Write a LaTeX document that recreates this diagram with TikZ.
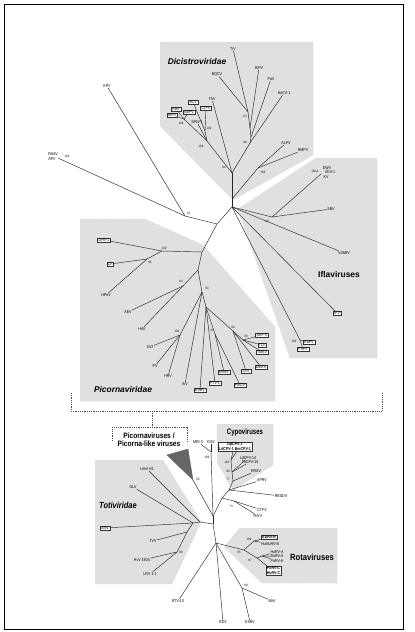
\documentclass[tikz,border=0pt]{standalone}
\usepackage{fontspec}
\setmainfont{Liberation Sans}
\newfontfamily\nf[FakeStretch=0.85]{Liberation Sans}
\newfontfamily\nnf[FakeStretch=0.75]{Liberation Sans}
\usepackage{tikz}
\usetikzlibrary{positioning}

\begin{document}
\begin{tikzpicture}[x=1pt,y=-1pt,
    br/.style={draw=black!85,line width=0.45pt},
    lab/.style={font=\nf\fontsize{4.2}{4.2}\selectfont,inner sep=0.5pt},
    bx/.style={lab,draw=black!80,fill=white,line width=0.3pt,inner xsep=1.1pt,inner ysep=0.6pt},
    bbx/.style={bx,font=\nf\bfseries\fontsize{4.2}{5}\selectfont,align=center},
    num/.style={font=\nf\fontsize{3.2}{3.2}\selectfont,inner sep=0pt},
    clade/.style={fill=black!12,draw=black!25,densely dotted,line width=0.3pt},
    brk/.style={draw=black!70,line width=0.4pt,dash pattern=on 1pt off 0.8pt},
    fam/.style={font=\bfseries\itshape\fontsize{8.4}{9}\selectfont}]
  \useasboundingbox (0,0) rectangle (415,632);
  \draw[line width=0.9pt] (4,4) rectangle (403,629);
  % shaded clades
  \filldraw[clade] (160,42) -- (313,42) -- (313,155) -- (233,200) -- (160,126) -- cycle;
  \filldraw[clade] (316,158) -- (377,158) -- (377,358) -- (290,358) -- (238,209) -- cycle;
  \filldraw[clade] (80,219) -- (145,219) -- (203,245) -- (275,327) -- (275,401) -- (80,401) -- cycle;
  \filldraw[clade] (217,424) -- (273,424) -- (273,465) -- (233,490) -- (217,462) -- cycle;
  \filldraw[clade] (95,460) -- (163,460) -- (201,522) -- (172,584) -- (95,584) -- cycle;
  \filldraw[clade] (240,528) -- (337,528) -- (337,583) -- (262,583) -- (224,547) -- cycle;
  \node[fam] (dicL) at (197,61) {Dicistroviridae};
  \node[fam] (picL) at (123,389) {Picornaviridae};
  \node[font=\bfseries\fontsize{8.4}{9}\selectfont] (iflL) at (339,274) {Iflaviruses};
  \node[font=\nf\bfseries\itshape\fontsize{8.8}{9}\selectfont] (totL) at (118,505) {Totiviridae};
  \node[font=\nf\bfseries\fontsize{9}{9}\selectfont] (rotL) at (312,557) {Rotaviruses};
  \node[font=\nnf\bfseries\fontsize{8}{9}\selectfont] (cypL) at (245,432) {Cypoviruses};

  % collapsed picorna part: bracket, box and wedge
  \coordinate (bm) at (152,411);
  \draw[brk] (71,393) -- (71,411) -- (382,411) -- (382,393);
  \draw[brk] (bm) -- (152,427);
  \draw[brk] (112,441) -- (112,427) -- (187,427) -- (187,441);
  \node[font=\nf\bfseries\fontsize{7.8}{8.3}\selectfont,align=center] (picb) at (149,440) {Picornaviruses /\\Picorna-like viruses};
  \coordinate (tri) at (193,480);
  \filldraw[fill=black!60,draw=black!60] (167,455) -- (188,449) -- (tri) -- cycle;

  % internal nodes
  \foreach \n/\x/\y in {R/232/207, dS/232/199, d84/232/173, dAL/258/168, d99/250/143, dPa/251/137,
      dHi/250/128, d63/248/112, d100c/207/141, d100b/205/131, d100a/184/119,
      i84/272/217, iDW/321/174, iEo/300/340, X/217/224, u81/185/216, uR/58/158,
      Pn/202/252, p100/162/251, p96/147/259, pQ/198/270, p83/183/286, p93/202/292, pE/180/335,
      pC/206/307, p93b/215/334, p99/233/331, p96b/243/340,
      nG/211/452, L1/222/498, L2/213/516, L3/213/524, L4/216/543, t0/200/522, t1/193/523,
      t2/187/532, t90/177/552, cA/231/460, cB/232/472, c77/233/481, cAP/229/490, c74/234/501,
      r95/244/550, r100/254/541, r97/257/558, rA/262/556, b99/242/588}
    \coordinate (\n) at (\x,\y);

  % leaf labels
  \foreach \n/\x/\y/\t in {TrV/233/49/TrV, BQCV/217/74/BQCV, HiPV/259/68/HiPV, PaV/271/79/PaV,
      HoCV/284/93/HoCV-1, ALPV/286/143/ALPV, RMPV/303/150/RMPV, TSV/212/99/TSV, SINV/197/122/SINV-1,
      KPV/107/86/KPV, RAAV/53/154/RAAV, APV/52/159/APV, SBV/331/209/SBV, DWV/327/168/DWV,
      VDV/330/172.5/VDV-1, KV/326/177/KV, VdSRV/344/253/VdSRV, HPeV/106/295/HPeV, AEV/128/312/AEV,
      HAV/142/329/HAV, SV2/150/347/SV2, PV/155/366/PV, HRV/168/376/HRV, AiV/185/384/AiV,
      MRI/198/442/MRI-3, GSV/211/442/GSV, UmV/147/469/UmV H1, GLV/133/487/GLV, TVV/153/541/TVV,
      HvV/142/560/HvV 190S, LRV/150/574/LRV 1-1, LdCPV/248/457.5/LdCPV-14, TnCPV/250/462/TnCPV-15,
      RRSV/256/471/RRSV, APRV/262/480/APRV, RBSDV/281/496/RBSDV, CTFV/262/510/CTFV, RArV/258/516/RArV,
      HuMuRV/270/544/HuMuRV-B, HuRVA/277/552/HuRV-A, BoRVA/277/556.5/BoRV-A, PoRVA/277/561/PoRV-A,
      BAV/272/601/BAV, ESRV/250/622/ESRV, RDV/223/622/RDV, BTV/178/601/BTV-10}
    \node[lab] (\n) at (\x,\y) {\t};
  \foreach \n/\x/\y/\t in {SCV/193/102/SCV, KBV/176/109/KBV, ABPV/189/112/ABPV, IAPV/172/115/IAPV,
      CrPV/206/108/CrPV, IPV/337/313/IPV, EoPV/309/342/EoPV, PnPV/303/349/PnPV, DHV/104/240/DHV-1,
      LV/110/264/LV, ERBV/200/390/ERBV, PTV/215/383/PTV-1, ERAV/224/372/ERAV, FMDV/240/385/FMDV,
      SVV/246/371/SVV, EMCV/261/367/EMCV, SAFV/262/335/SAF-V, TLV/262/345/TLV, TMEV/262/352/TMEV,
      SMV/105/528/SMV}
    \node[bx] (\n) at (\x,\y) {\t};
  \node[bbx] (ADRV) at (269,537) {ADRV-N};
  \node[bbx] (PoRVC) at (273.5,571) {PoRV-C\\HuRV-C};
  \node[bbx] (cbox) at (235,447) {DpCPV-1\\LdCPV-1 BmCPV-1};

  % bootstrap values
  \foreach \x/\y/\t [count=\k] in {245/116/63, 245/142/99, 224/167/84, 181/123/100, 209/128/100,
      201/146/100, 263/172/100, 67/156/100, 189/213/81, 267/221/84, 315/172/{100,A}, 294/341/100,
      164/248/100, 150/262/96, 181/281/83, 207/288/93, 177/331/100, 212/330/93, 233/327.5/99,
      246/336/96, 198/479/85, 207/457/100, 227/462/100, 228/471/90, 228/479/77, 231/506/74,
      181/552/90, 249/539/100, 239/552/95, 250/560/97, 246/585/99}
    \node[num] (bs\k) at (\x,\y) {\t};

  % branches, upper tree
  \foreach \a/\b in {R/dS, dS/d84, dS/dAL, dAL/ALPV, dAL/RMPV, d84/d99, d99/HoCV, d99/dPa, dPa/PaV,
      dPa/dHi, dHi/HiPV, dHi/d63, d63/TrV, d63/BQCV, d84/TSV, d84/d100c, d100c/SINV, d100c/d100b,
      d100b/SCV, d100b/CrPV, d100c/d100a, d100a/IAPV, d100a/KBV, d100a/ABPV,
      R/i84, i84/SBV, i84/iDW, R/VdSRV, R/IPV, R/iEo, iEo/EoPV, iEo/PnPV,
      R/X, X/u81, u81/KPV, u81/uR, X/Pn,
      Pn/p100, p100/DHV, p100/p96, p96/LV, p96/HPeV, Pn/pQ, pQ/p83, p83/AEV, p83/HAV, pQ/p93,
      p93/pE, pE/SV2, pE/PV, pE/HRV, p93/AiV, p93/pC, pC/ERBV, pC/PTV, pC/p93b, p93b/ERAV,
      p93b/FMDV, pC/p99, p99/SVV, p99/EMCV, p99/p96b, p96b/SAFV, p96b/TLV, p96b/TMEV}
    \draw[br] (\a) -- (\b);
  % branches, lower tree
  \foreach \a/\b in {tri/L2, nG/L2, nG/MRI, nG/GSV, L1/L2, L2/L3, L3/L4, L3/t0, t0/UmV, t0/t1,
      t1/GLV, t1/SMV, t1/t2, t2/TVV, t2/t90, t90/HvV, t90/LRV,
      L1/cAP, cAP/APRV, cAP/RBSDV, cAP/c77, c77/RRSV, c77/cB, cB/LdCPV, cB/TnCPV, cB/cA,
      L1/c74, c74/CTFV, c74/RArV,
      L4/r95, r95/r100, r100/ADRV, r100/HuMuRV, r95/r97, r97/rA, rA/HuRVA, rA/BoRVA, rA/PoRVA,
      r97/PoRVC, L4/b99, b99/BAV, b99/ESRV, L4/RDV, L4/BTV}
    \draw[br] (\a) -- (\b);
  \draw[br] (cA) -- ([xshift=-2pt]cbox.south);
  \draw[br] (cA) -- ([xshift=1.5pt]cbox.south);
\end{tikzpicture}
\end{document}
